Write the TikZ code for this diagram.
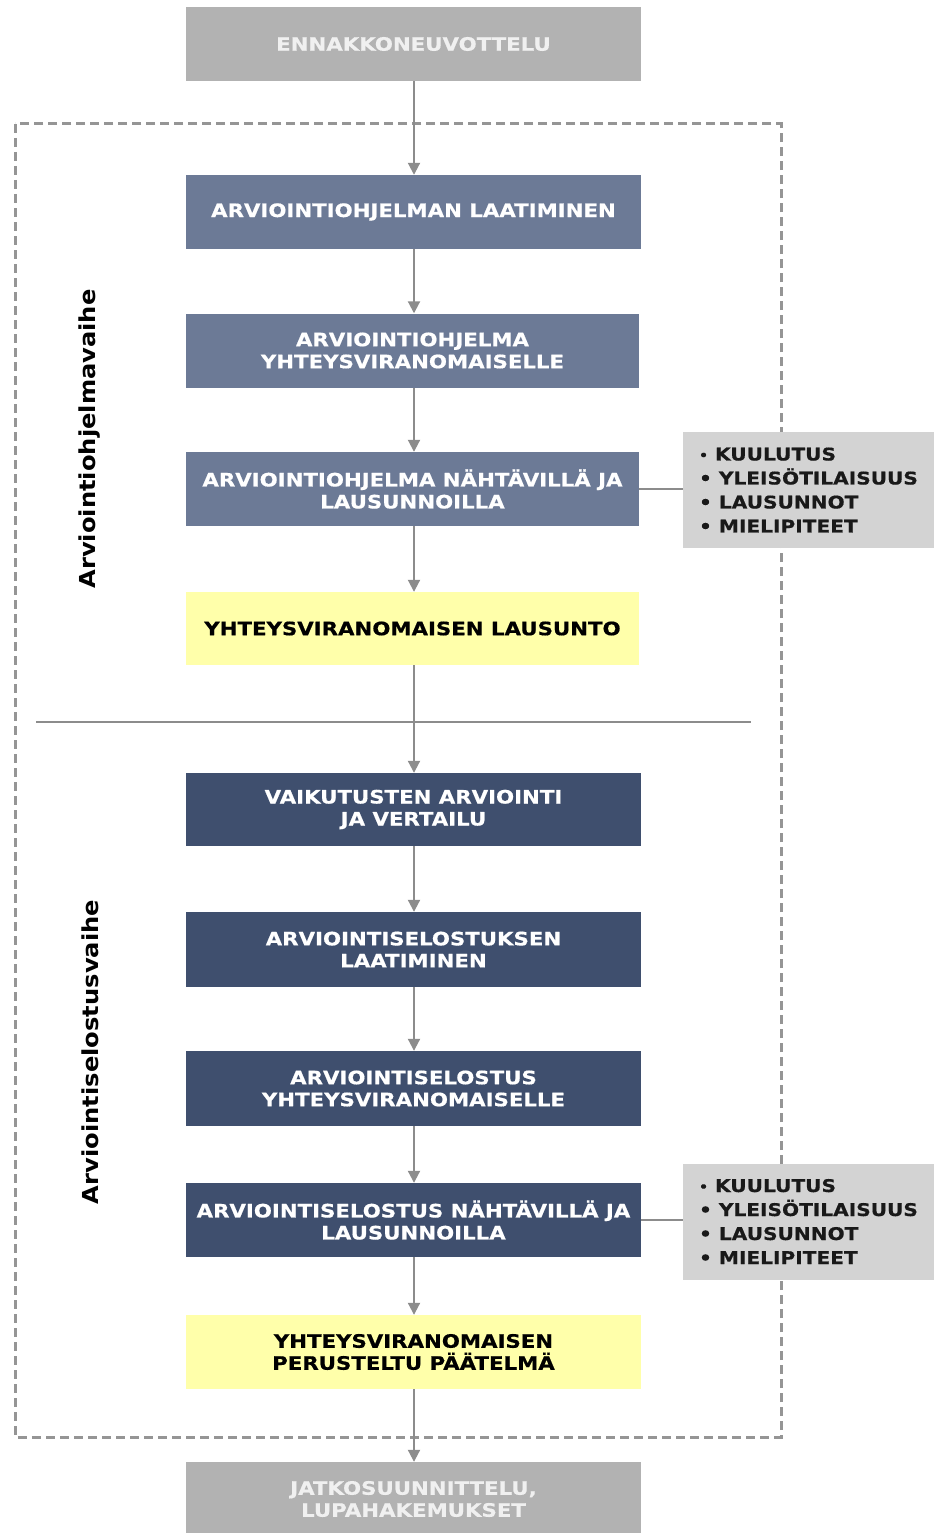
\documentclass[tikz,border=0pt]{standalone}
\usepackage{fontspec}
\setmainfont{DejaVu Sans}
\newfontfamily\boxfont{DejaVu Sans}[FakeStretch=1.15,FakeBold=0.6]
\newfontfamily\sidefont{DejaVu Sans}[FakeStretch=1.15,FakeBold=0.6]
\newfontfamily\phasefont{DejaVu Sans}[FakeStretch=1.1]
\usetikzlibrary{arrows.meta}
\definecolor{topgrey}{HTML}{B2B2B2}
\definecolor{slate}{HTML}{6C7A96}
\definecolor{navy}{HTML}{3F4F6E}
\definecolor{paleyellow}{HTML}{FFFFAA}
\definecolor{sidegrey}{HTML}{D3D3D3}
\definecolor{arrowgrey}{HTML}{8C8C8C}
\definecolor{dashgrey}{HTML}{959595}
\begin{document}
\begin{tikzpicture}[x=1pt,y=-1pt,
  basebox/.style={rectangle,inner sep=0pt,minimum width=455pt,minimum height=74pt,
    align=center,font=\boxfont\bfseries\fontsize{18.5}{22}\selectfont},
  greybox/.style={basebox,fill=topgrey,text=white!94!black},
  slatebox/.style={basebox,fill=slate,text=white},
  navybox/.style={basebox,fill=navy,text=white},
  yellowbox/.style={basebox,fill=paleyellow,text=black},
  sidebox/.style={rectangle,fill=sidegrey,inner sep=0pt,minimum width=251pt,minimum height=116pt,
    align=left,font=\sidefont\bfseries\fontsize{17.5}{24}\selectfont,text=black!90},
  flow/.style={draw=arrowgrey,line width=2pt,-{Triangle[width=12pt,length=12pt]}},
  sideline/.style={draw=arrowgrey,line width=1.5pt},
  phase/.style={rotate=90,font=\phasefont\bfseries\fontsize{22}{26}\selectfont,text=black}
]
\useasboundingbox (0,0) rectangle (934,1533);
\fill[white] (0,0) rectangle (934,1533);
% dashed frame and divider
\draw[dashgrey,line width=3pt,dash pattern=on 9pt off 5pt] (15,124) rectangle (781,1437);
\draw[arrowgrey,line width=1.5pt] (36,722) -- (751,722);
% boxes
\node[greybox] (top) at (413.5,44) {ENNAKKONEUVOTTELU};
\node[slatebox] (b1) at (413.5,212) {ARVIOINTIOHJELMAN LAATIMINEN};
\node[slatebox,minimum width=453pt] (b2) at (412.5,350.5) {ARVIOINTIOHJELMA\\YHTEYSVIRANOMAISELLE};
\node[slatebox,minimum width=453pt] (b3) at (412.5,489) {ARVIOINTIOHJELMA NÄHTÄVILLÄ JA\\LAUSUNNOILLA};
\node[yellowbox,minimum width=453pt,minimum height=73pt] (y1) at (412.5,628.5) {YHTEYSVIRANOMAISEN LAUSUNTO};
\node[navybox,minimum height=73pt] (b5) at (413.5,809.5) {VAIKUTUSTEN ARVIOINTI\\JA VERTAILU};
\node[navybox,minimum height=75pt] (b6) at (413.5,949.5) {ARVIOINTISELOSTUKSEN\\LAATIMINEN};
\node[navybox,minimum height=75pt] (b7) at (413.5,1088.5) {ARVIOINTISELOSTUS\\YHTEYSVIRANOMAISELLE};
\node[navybox] (b8) at (413.5,1220) {ARVIOINTISELOSTUS NÄHTÄVILLÄ JA\\LAUSUNNOILLA};
\node[yellowbox] (y2) at (413.5,1352) {YHTEYSVIRANOMAISEN\\PERUSTELTU PÄÄTELMÄ};
\node[greybox] (bot) at (413.5,1499) {JATKOSUUNNITTELU,\\LUPAHAKEMUKSET};
% side boxes
\node[sidebox] (s1) at (808.5,490) {\raisebox{0.1ex}{\scalebox{0.7}{•}} KUULUTUS\\• YLEISÖTILAISUUS\\• LAUSUNNOT\\• MIELIPITEET};
\node[sidebox] (s2) at (808.5,1221.5) {\raisebox{0.1ex}{\scalebox{0.7}{•}} KUULUTUS\\• YLEISÖTILAISUUS\\• LAUSUNNOT\\• MIELIPITEET};
% phase labels
\node[phase] (p1) at (90,439) {Arviointiohjelmavaihe};
\node[phase] (p2) at (90,1052) {Arviointiselostusvaihe};
% flow arrows
\foreach \a/\b in {top/b1,b1/b2,b2/b3,b3/y1,y1/b5,b5/b6,b6/b7,b7/b8,b8/y2,y2/bot}
  \draw[flow] (\a.south -| 414,0) -- (\b.north -| 414,0);
% side connectors
\draw[sideline] (b3.east) -- (b3.east -| s1.west);
\draw[sideline] (b8.east) -- (b8.east -| s2.west);
\end{tikzpicture}
\end{document}
